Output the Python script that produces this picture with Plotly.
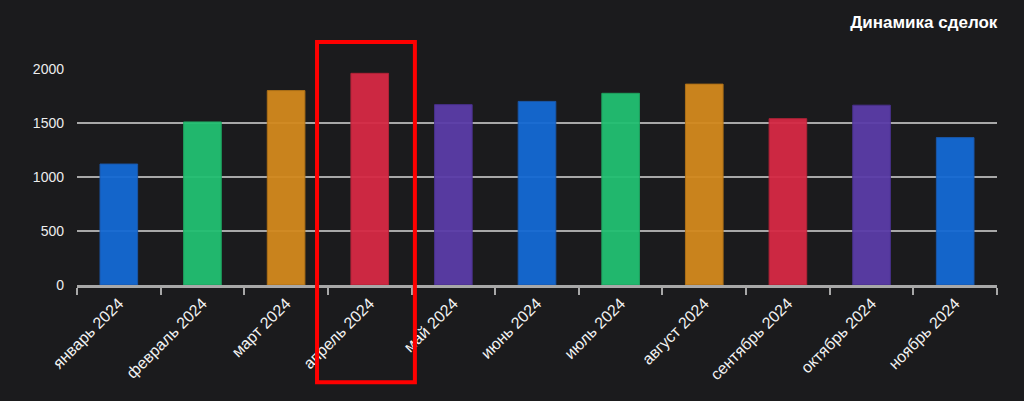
import plotly.graph_objects as go

# Данные графика
months = ['январь 2024', 'февраль 2024', 'март 2024', 'апрель 2024', 'май 2024',
          'июнь 2024', 'июль 2024', 'август 2024', 'сентябрь 2024', 'октябрь 2024',
          'ноябрь 2024']
deals = [1120, 1510, 1800, 1960, 1670, 1700, 1775, 1860, 1540, 1665, 1365]
bar_colors = ['#1469D4', '#22C072', '#D3891D', '#D62944', '#5B3CA8',
              '#1469D4', '#22C072', '#D3891D', '#D62944', '#5B3CA8', '#1469D4']
border_colors = ['#1A5BB0', '#1FA862', '#B57518', '#B82439', '#4B3290',
                 '#1A5BB0', '#1FA862', '#B57518', '#B82439', '#4B3290', '#1A5BB0']
y_ticks = [0, 500, 1000, 1500, 2000]

bg = '#1B1B1D'
grid = '#A8A8A8'

fig = go.Figure(go.Bar(
    x=months,
    y=deals,
    marker=dict(color=bar_colors, opacity=0.95,
                line=dict(color=border_colors, width=1)),
    hoverinfo='x+y',
))

fig.update_layout(
    width=1024,
    height=401,
    paper_bgcolor=bg,
    plot_bgcolor=bg,
    margin=dict(l=77, r=27, t=69, b=116),
    bargap=0.55,
    showlegend=False,
    font=dict(family='Liberation Sans, Arial, sans-serif', color='#EDEDED', size=14),
    title=dict(text='<b>Динамика сделок</b>', x=0.974, xanchor='right',
               y=0.945, yanchor='middle',
               font=dict(size=17, color='#FFFFFF')),
)

fig.update_xaxes(
    tickangle=-45,
    tickfont=dict(size=16, color='#F2F2F2'),
    showgrid=False,
    showline=True, linecolor='#A8A8A8', linewidth=2.5,
    ticks='outside', tickson='boundaries', ticklen=7, tickwidth=1.5,
    tickcolor='#A8A8A8',
)

fig.update_yaxes(
    range=[0, 2000],
    tickvals=y_ticks,
    showgrid=True, gridcolor=grid, gridwidth=1.5,
    zeroline=False, showline=False,
    ticklabelstandoff=12,
    tickfont=dict(size=14, color='#EDEDED'),
)

# Красная рамка вокруг апреля
fig.add_shape(
    type='rect', xref='x', yref='paper',
    x0=2.37, x1=3.54, y0=-0.45, y1=1.125,
    line=dict(color='#FF0000', width=4),
    layer='above',
)

fig.write_html("out.html",
               config={'displayModeBar': False},
               post_script="document.body.style.margin='0';")
